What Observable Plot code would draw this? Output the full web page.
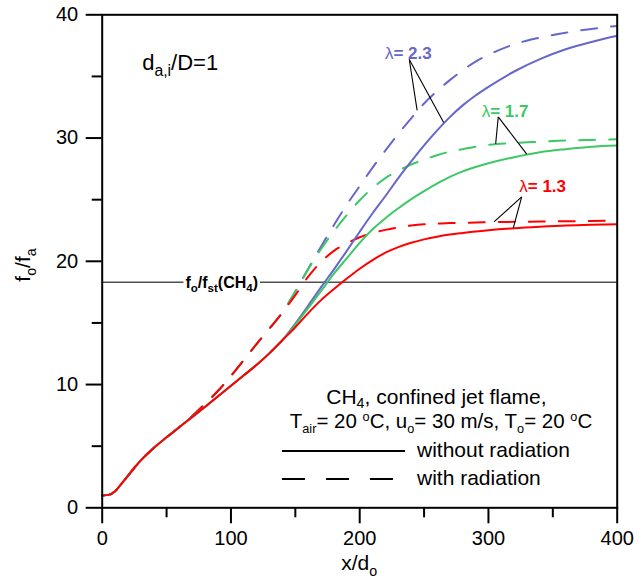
<!DOCTYPE html>
<html><head><meta charset="utf-8">
<script src="https://cdn.jsdelivr.net/npm/d3@7"></script>
<script src="https://cdn.jsdelivr.net/npm/@observablehq/plot@0.6"></script>
<style>body{margin:0;background:#fff} svg text{white-space:pre}</style>
</head><body><div id="chart"></div>
<script>
// ---------- data ----------
const xs = [0,5,10,15,20,25,30,40,50,60,70,80,90,100,110,120,130,140,
  150,160,170,180,190,200,210,220,230,240,250,260,270,280,290,300,320,340,360,380,400];
const solidBase  = [1.0,1.05,1.35,1.95,2.6,3.25,3.85,4.85,5.72,6.55,7.38,8.2,9.05,9.9,10.75,11.6,12.55,13.6];
const dashedBase = [1.0,1.05,1.35,1.95,2.6,3.25,3.85,4.85,5.72,6.55,7.45,8.45,9.5,10.7,12.0,13.3,14.55,15.85];
const solid13 = [14.65,15.8,16.85,17.75,18.6,19.4,20.1,20.7,21.15,21.5,21.78,22.0,22.17,22.3,22.42,22.52,22.68,22.8,22.9,22.96,23.0];
const solid17 = [14.85,16.2,17.6,19.0,20.25,21.5,22.6,23.5,24.3,25.05,25.7,26.3,26.85,27.3,27.65,27.95,28.45,28.85,29.1,29.3,29.4];
const solid23 = [14.95,16.4,17.9,19.35,20.85,22.4,23.9,25.3,26.75,28.1,29.4,30.6,31.7,32.65,33.45,34.15,35.4,36.4,37.2,37.8,38.3];
const dash13  = [17.25,18.75,19.95,20.85,21.45,21.95,22.3,22.55,22.75,22.9,23.0,23.05,23.1,23.12,23.15,23.17,23.2,23.22,23.25,23.27,23.3];
const dash17  = [17.55,19.35,21.0,22.45,23.75,24.95,25.95,26.75,27.35,27.85,28.25,28.6,28.9,29.1,29.3,29.45,29.6,29.7,29.8,29.85,29.9];
const dash23  = [17.55,19.4,21.2,22.95,24.6,26.1,27.6,29.0,30.35,31.6,32.8,33.8,34.7,35.5,36.2,36.75,37.6,38.15,38.55,38.85,39.1];
const fstValue = 18.3;
const lambdas = ["1.3","1.7","2.3"];
const colors = {"1.3":"#FF0000","1.7":"#3CC864","2.3":"#6666CC"};
const xMajor = [0,100,200,300,400], xMinor = [50,150,250,350];
const yMajor = [0,10,20,30,40], yMinor = [5,15,25,35];

const series = [
  {lam:"2.3", rad:true,  ys:[...dashedBase,...dash23]},
  {lam:"1.7", rad:true,  ys:[...dashedBase,...dash17]},
  {lam:"1.3", rad:true,  ys:[...dashedBase,...dash13]},
  {lam:"2.3", rad:false, ys:[...solidBase,...solid23]},
  {lam:"1.7", rad:false, ys:[...solidBase,...solid17]},
  {lam:"1.3", rad:false, ys:[...solidBase,...solid13]},
];
const rows = s => xs.map((x,i) => ({x, y:s.ys[i]}));
const findS = (lam, rad) => series.find(s => s.lam===lam && s.rad===rad);
const interp = (s, x) => { const i = d3.bisectRight(xs, x) - 1; const t=(x-xs[i])/(xs[i+1]-xs[i]); return s.ys[i]+t*(s.ys[i+1]-s.ys[i]); };

const FONT = "'Liberation Sans', Arial, sans-serif";
const DASH = "16,14";

function rich(parent, markup, o) {
  const size = o.size, subScale = o.subScale ?? 0.68, subShift = o.subShift ?? 0.22, supShift = o.supShift ?? 0.36;
  const t = parent.append("text").attr("x", o.x).attr("y", o.y).attr("font-size", size)
    .attr("text-anchor", o.anchor || "start").attr("font-weight", o.weight || "normal")
    .attr("fill", o.fill || "black").attr("font-family", FONT);
  if (o.rotate) t.attr("transform", `rotate(${o.rotate},${o.x},${o.y})`);
  if (o.cls) t.attr("class", o.cls);
  const parts = markup.split(/(_\{[^}]*\}|\^\{[^}]*\}|\{n:[^}]*\})/).filter(s => s !== "");
  let shift = 0;
  for (const p of parts) {
    let txt = p, target = 0, fs = size, w = null;
    if (p.startsWith("_{")) { txt = p.slice(2,-1); target = subShift*size; fs = size*subScale; }
    else if (p.startsWith("^{")) { txt = p.slice(2,-1); target = -supShift*size; fs = size*subScale; }
    else if (p.startsWith("{n:")) { txt = p.slice(3,-1); w = "normal"; }
    const ts = t.append("tspan").attr("font-size", fs).attr("dy", target - shift).text(txt);
    if (w) ts.attr("font-weight", w);
    shift = target;
  }
  return t;
}

function annotations(index, scales, values, dims) {
  const X = scales.x, Y = scales.y;
  const g = d3.create("svg:g");
  // header
  rich(g, "d_{a,i}/D=1", {x:X(31.4), y:Y(35.47), size:22, subScale:0.72, subShift:0.28});
  // legend text
  rich(g, "CH_{4}, confined jet flame,", {x:X(260), y:Y(8.42), size:21, anchor:"middle"});
  rich(g, "T_{air}= 20 ^{o}C, u_{o}= 30 m/s, T_{o}= 20 ^{o}C", {x:X(263.5), y:Y(6.43), size:20.5, subScale:0.62, anchor:"middle"});
  rich(g, "without radiation", {x:X(244.9), y:Y(4.08), size:21});
  rich(g, "with radiation", {x:X(244.9), y:Y(1.81), size:21});
  g.append("line").attr("x1",X(140)).attr("x2",X(235.6)).attr("y1",Y(4.57)).attr("y2",Y(4.57)).attr("stroke","black").attr("stroke-width",2);
  g.append("line").attr("x1",X(140)).attr("x2",X(226.3)).attr("y1",Y(2.3)).attr("y2",Y(2.3)).attr("stroke","black").attr("stroke-width",2).attr("stroke-dasharray","23,21");
  // axis titles
  const mx = (dims.marginLeft + dims.width - dims.marginRight)/2;
  rich(g, "x/d_{o}", {x:mx, y:570, size:21, anchor:"middle", subShift:0.3});
  rich(g, "f_{o}/f_{a}", {x:30, y:265, size:21, anchor:"middle", rotate:-90, subShift:0.3});
  // stoichiometric label
  rich(g, "f_{o}/f_{st}(CH_{4})", {x:X(93.2), y:Y(fstValue)+6, size:16, weight:"bold", anchor:"middle", subScale:0.72, subShift:0.25, cls:"stlabel"});
  // lambda labels and leaders
  const lab = [
    {lam:"2.3", tx:220.0, ty:36.41, ax:238.9, ay:36.33, dx:245.0, sx:265.6},
    {lam:"1.7", tx:295.1, ty:31.68, ax:308.0, ay:31.68, dx:306.0, sx:330.1},
    {lam:"1.3", tx:324.3, ty:25.6,  ax:326.2, ay:25.19, dx:304.9, sx:319.7},
  ];
  for (const l of lab) {
    for (const [xx, rad] of [[l.dx,true],[l.sx,false]]) {
      g.append("line").attr("x1",X(l.ax)).attr("y1",Y(l.ay)).attr("x2",X(xx)).attr("y2",Y(interp(findS(l.lam,rad),xx)))
        .attr("stroke","black").attr("stroke-width",1.1);
    }
    rich(g, `{n:λ}= ${l.lam}`, {x:X(l.tx), y:Y(l.ty), size:17, weight:"bold", fill:colors[l.lam]});
  }
  return g.node();
}

const marks = [
  Plot.ruleY([fstValue], {stroke:"#505050", strokeWidth:1.5}),
  ...series.map(s => Plot.line(rows(s), {x:"x", y:"y", stroke:colors[s.lam], strokeWidth:2,
      strokeDasharray: s.rad ? DASH : null, curve:"monotone-x"})),
  Plot.frame({stroke:"black", strokeWidth:2}),
  Plot.axisX({ticks:xMajor, tickSize:16, tickPadding:7, strokeWidth:2, fontSize:20, label:null, tickFormat:d=>String(d)}),
  Plot.axisX({ticks:xMinor, tickSize:10, strokeWidth:2, label:null, tickFormat:()=>""}),
  Plot.axisY({ticks:yMajor, tickSize:16, tickPadding:8, strokeWidth:2, fontSize:20, label:null, tickFormat:d=>String(d)}),
  Plot.axisY({ticks:yMinor, tickSize:10, strokeWidth:2, label:null, tickFormat:()=>""}),
  annotations
];

const svg = Plot.plot({
  width:644, height:586,
  marginLeft:101.7, marginRight:27.3, marginTop:14.3, marginBottom:78.7,
  x:{domain:[0,400]}, y:{domain:[0,40]},
  style:{fontFamily:FONT, fontSize:"20px", background:"white", color:"black", overflow:"visible"},
  marks
});
document.getElementById("chart").appendChild(svg);
// white background behind the stoichiometric label to break the reference line
const st = svg.querySelector("text.stlabel");
if (st) {
  const bb = st.getBBox();
  const r = document.createElementNS("http://www.w3.org/2000/svg","rect");
  r.setAttribute("x", bb.x-2); r.setAttribute("y", bb.y+1); r.setAttribute("width", bb.width+4); r.setAttribute("height", bb.height-2);
  r.setAttribute("fill","white");
  st.parentNode.insertBefore(r, st);
}
</script></body></html>
